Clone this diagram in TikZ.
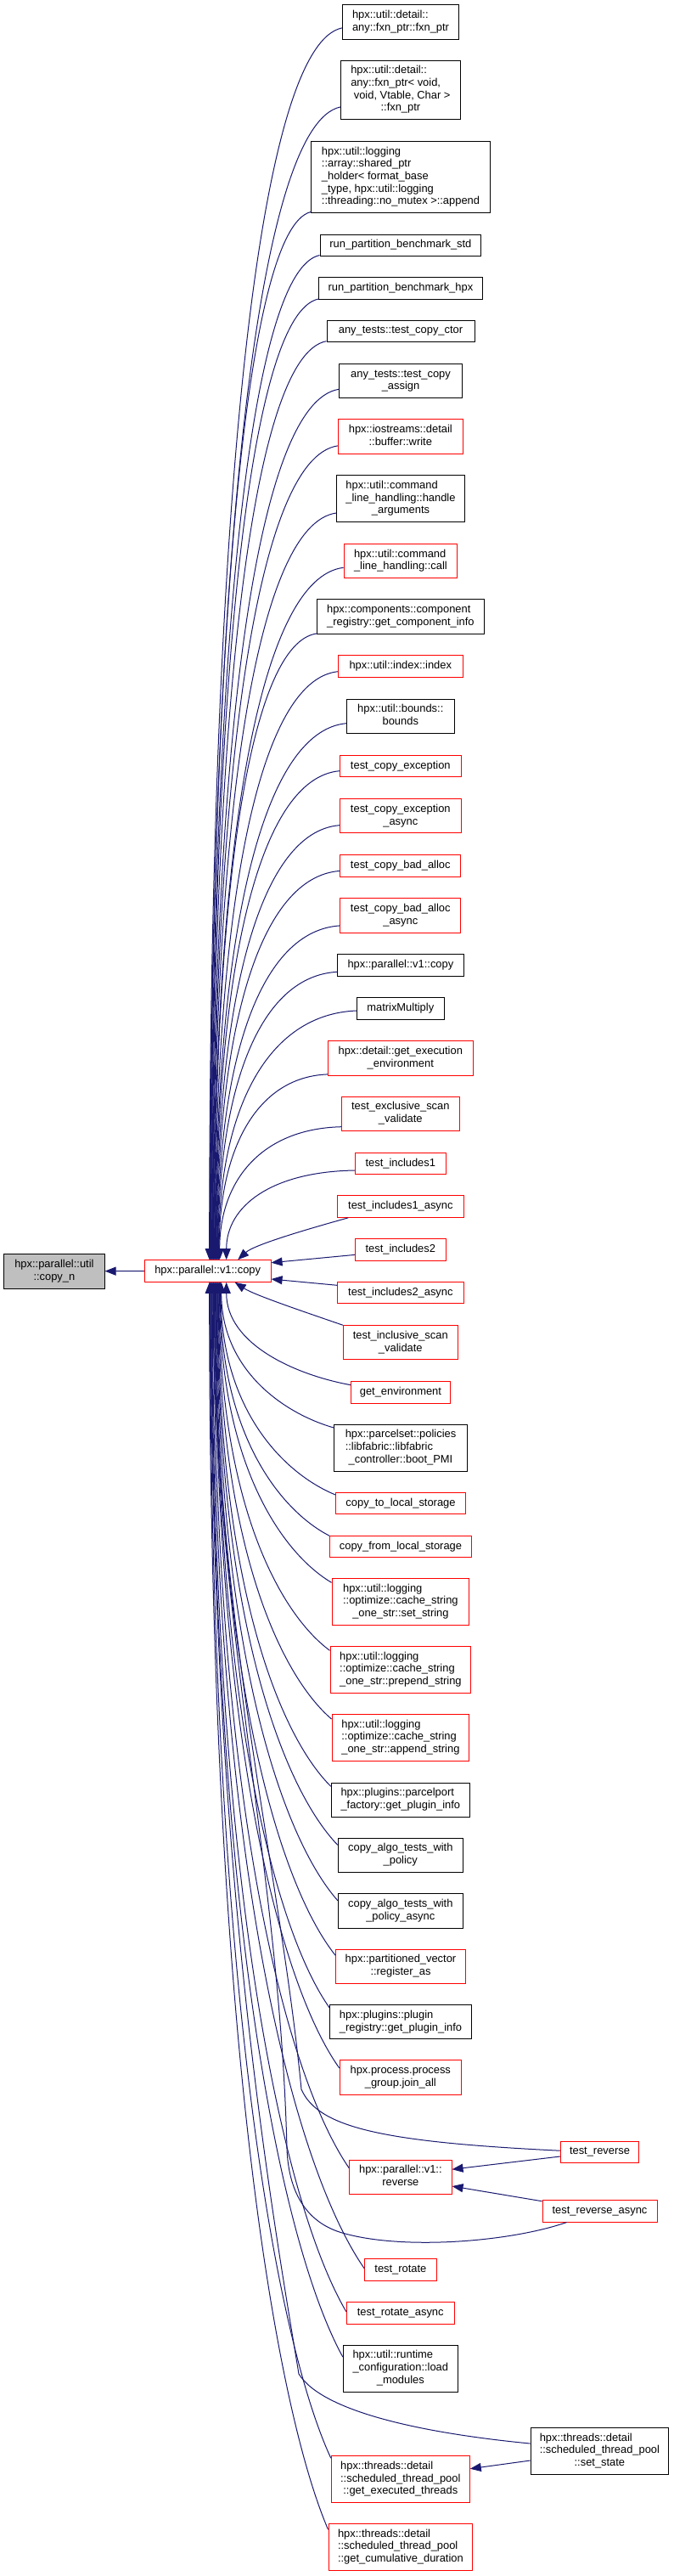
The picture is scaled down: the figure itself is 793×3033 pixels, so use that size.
\documentclass[tikz,border=0pt]{standalone}
\usepackage{fontspec}
\setmainfont{Liberation Sans}
\usetikzlibrary{calc,arrows.meta}
\definecolor{edgec}{HTML}{191970}
\definecolor{redc}{HTML}{FF0000}
\definecolor{grayf}{HTML}{BFBFBF}
\newcommand\nodefont{\fontsize{12.9}{14.7}\selectfont}
\newcommand\ml[2]{\begin{tabular}{@{}l@{}}#1\\\multicolumn{1}{@{}c@{}}{#2}\end{tabular}}
\tikzset{
 nb/.style={draw, line width=1pt, inner sep=0pt, font=\nodefont, align=center, fill=white},
 blk/.style={nb, draw=black},
 rd/.style={nb, draw=redc},
 gr/.style={nb, draw=black, fill=grayf},
 edge/.style={draw=edgec, line width=1pt, -{Triangle[length=13pt,width=10pt]}},
}
\newcommand\mknode[7]{\node[#6, minimum width=#4pt, minimum height=#5pt] (#1) at (#2,#3) {#7};}
\newcommand\upe[3]{\draw[edge] let \p1=($(#1.west)+(0,#2)$), \p2=($(copy.north)+(#3,0)$), \n1={\x1-\x2}, \n2={\y1-\y2} in (\p1) .. controls (\x1-0.65*\n1,\y1-0.015*\n2) and (\x2,\y2+0.6*\n2) .. (\p2);}
\newcommand\loe[3]{\draw[edge] let \p1=($(#1.west)+(0,#2)$), \p2=($(copy.south)+(#3,0)$), \n1={\x1-\x2}, \n2={\y2-\y1} in (\p1) .. controls (\x1-0.45*\n1,\y1+0.1*\n2) and (\x2,\y2-0.6*\n2) .. (\p2);}
\begin{document}
\begin{tikzpicture}[x=1pt,y=-1pt]
\fill[white] (0,0) rectangle (793,3033);
\useasboundingbox (0,0) rectangle (793,3033);
% central nodes
\mknode{copyn}{63.9}{1496.7}{118.3}{40.7}{gr}{\ml{hpx::parallel::util}{::copy\_n}}
\mknode{copy}{244.7}{1496.5}{148.7}{25.6}{rd}{hpx::parallel::v1::copy}
% callers
\mknode{a1}{472}{25.9}{137.4}{40.3}{blk}{\ml{hpx::util::detail::}{any::fxn\_ptr::fxn\_ptr}}
\mknode{a2}{471.9}{105.9}{140.3}{69.7}{blk}{\ml{hpx::util::detail::\\any::fxn\_ptr< void,\\\ void, Vtable, Char >}{::fxn\_ptr}}
\mknode{a3}{472}{208.5}{210.6}{83.6}{blk}{\ml{hpx::util::logging\\::array::shared\_ptr\\\_holder< format\_base\\\_type, hpx::util::logging}{::threading::no\_mutex >::append}}
\mknode{a4}{471.9}{288.5}{189.7}{25}{blk}{run\_partition\_benchmark\_std}
\mknode{a5}{471.9}{339.4}{192.3}{25.3}{blk}{run\_partition\_benchmark\_hpx}
\mknode{a6}{472}{389.9}{174}{25.7}{blk}{any\_tests::test\_copy\_ctor}
\mknode{a7}{472}{448.7}{144.6}{40}{blk}{\ml{any\_tests::test\_copy}{\_assign}}
\mknode{a8}{471.8}{513.9}{147}{40.3}{rd}{\ml{hpx::iostreams::detail}{::buffer::write}}
\mknode{a9}{472}{587.2}{150.6}{55}{blk}{\ml{hpx::util::command\\\_line\_handling::handle}{\_arguments}}
\mknode{a10}{471.9}{660.5}{133.7}{40.4}{rd}{\ml{hpx::util::command}{\_line\_handling::call}}
\mknode{a11}{471.9}{725.9}{196.3}{40.3}{blk}{\ml{hpx::components::component}{\_registry::get\_component\_info}}
\mknode{a12}{471.8}{784.5}{147}{25.6}{rd}{hpx::util::index::index}
\mknode{a13}{471.8}{843.2}{127}{40}{blk}{\ml{hpx::util::bounds::}{bounds}}
\mknode{a14}{471.8}{901.9}{143}{25.7}{rd}{test\_copy\_exception}
\mknode{a15}{471.8}{960.7}{143}{40}{rd}{\ml{test\_copy\_exception}{\_async}}
\mknode{a16}{471.8}{1019.4}{141.7}{25.3}{rd}{test\_copy\_bad\_alloc}
\mknode{a17}{471.8}{1077.9}{141.7}{40.3}{rd}{\ml{test\_copy\_bad\_alloc}{\_async}}
\mknode{a18}{471.9}{1136.5}{148.3}{25.6}{blk}{hpx::parallel::v1::copy}
\mknode{a19}{471.8}{1187.2}{103}{25.7}{blk}{matrixMultiply}
\mknode{a20}{471.8}{1245.9}{171}{40.3}{rd}{\ml{hpx::detail::get\_execution}{\_environment}}
\mknode{a21}{471.8}{1311.2}{139}{40.3}{rd}{\ml{test\_exclusive\_scan}{\_validate}}
\mknode{a22}{471.8}{1369.7}{107}{25.3}{rd}{test\_includes1}
\mknode{a23}{471.9}{1420.5}{148.3}{25.6}{rd}{test\_includes1\_async}
\mknode{a24}{471.8}{1471.4}{107}{25.3}{rd}{test\_includes2}
\mknode{a25}{471.9}{1522}{148.3}{25.4}{rd}{test\_includes2\_async}
\mknode{a26}{471.8}{1580.7}{135}{40}{rd}{\ml{test\_inclusive\_scan}{\_validate}}
\mknode{a27}{471.9}{1639.4}{116.3}{25.3}{rd}{get\_environment}
\mknode{a28}{472}{1704.5}{156.6}{55}{blk}{\ml{hpx::parcelset::policies\\::libfabric::libfabric}{\_controller::boot\_PMI}}
\mknode{a29}{472}{1769.9}{152.6}{25.7}{rd}{copy\_to\_local\_storage}
\mknode{a30}{472}{1820.7}{166.6}{25.3}{rd}{copy\_from\_local\_storage}
\mknode{a31}{471.9}{1886}{161.7}{54.6}{rd}{\ml{hpx::util::logging\\::optimize::cache\_string}{\_one\_str::set\_string}}
\mknode{a32}{471.9}{1966}{165.7}{54.6}{rd}{\ml{hpx::util::logging\\::optimize::cache\_string}{\_one\_str::prepend\_string}}
\mknode{a33}{471.9}{2046}{161.7}{54.6}{rd}{\ml{hpx::util::logging\\::optimize::cache\_string}{\_one\_str::append\_string}}
\mknode{a34}{471.8}{2119}{163}{40}{blk}{\ml{hpx::plugins::parcelport}{\_factory::get\_plugin\_info}}
\mknode{a35}{471.8}{2184.3}{147}{40}{blk}{\ml{copy\_algo\_tests\_with}{\_policy}}
\mknode{a36}{471.8}{2249.9}{147}{40.3}{blk}{\ml{copy\_algo\_tests\_with}{\_policy\_async}}
\mknode{a37}{472}{2315.2}{152.6}{40.3}{rd}{\ml{hpx::partitioned\_vector}{::register\_as}}
\mknode{a38}{472}{2380.7}{166.6}{40}{blk}{\ml{hpx::plugins::plugin}{\_registry::get\_plugin\_info}}
\mknode{a39}{471.8}{2445.9}{143}{40.3}{rd}{\ml{hpx.process.process}{\_group.join\_all}}
\mknode{b1}{706.5}{2533.7}{92.4}{25.3}{rd}{test\_reverse}
\mknode{a40}{471.9}{2563.2}{120.3}{39.7}{rd}{\ml{hpx::parallel::v1::}{reverse}}
\mknode{b2}{706.5}{2603.4}{135}{25.3}{rd}{test\_reverse\_async}
\mknode{a41}{471.9}{2672.2}{84.3}{25.7}{rd}{test\_rotate}
\mknode{a42}{471.7}{2723.4}{126.7}{25.3}{rd}{test\_rotate\_async}
\mknode{a43}{471.8}{2788.5}{135}{55}{blk}{\ml{hpx::util::runtime\\\_configuration::load}{\_modules}}
\mknode{b3}{706.4}{2886}{162.7}{54.6}{blk}{\ml{hpx::threads::detail\\::scheduled\_thread\_pool}{::set\_state}}
\mknode{a44}{471.8}{2919.2}{163}{55}{rd}{\ml{hpx::threads::detail\\::scheduled\_thread\_pool}{::get\_executed\_threads}}
\mknode{a45}{471.9}{2998.8}{169.7}{55}{rd}{\ml{hpx::threads::detail\\::scheduled\_thread\_pool}{::get\_cumulative\_duration}}
% edges
\draw[edge] (copy) -- (copyn);
\upe{a1}{7}{2}
\upe{a2}{20}{2.6}
\upe{a3}{41}{3.2}
\upe{a4}{12}{3.8}
\upe{a5}{12.6}{4.4}
\upe{a6}{11.8}{5}
\upe{a7}{9.6}{5.6}
\upe{a8}{11}{6.2}
\upe{a9}{16.8}{6.8}
\upe{a10}{7.8}{7.4}
\upe{a11}{20}{8}
\upe{a12}{6.2}{8.6}
\upe{a13}{8.5}{9.2}
\upe{a14}{5.8}{9.8}
\upe{a15}{11}{10.4}
\upe{a16}{6}{11}
\upe{a17}{12}{11.6}
\upe{a18}{7.8}{12.2}
\upe{a19}{2.8}{12.8}
\upe{a20}{19}{13.4}
\upe{a21}{15.5}{14}
\upe{a22}{8.3}{22}
\draw[edge] ($(a23.south west)+(13,0)$) .. controls (370,1445) and (300,1465) .. ($(copy.north)+(35.5,0)$);
\draw[edge] ($(a24.west)+(0,6)$) -- ($(copy.east)+(0,-9.8)$);
\draw[edge] ($(a25.west)+(0,-8.7)$) -- ($(copy.east)+(0,9.5)$);
\draw[edge] (a26.north west) .. controls (360,1545) and (300,1525) .. ($(copy.south)+(32,0)$);
\loe{a27}{-8.7}{22}
\loe{a28}{-23.5}{16}
\loe{a29}{-9.9}{15.3}
\loe{a30}{-12.4}{14.6}
\loe{a31}{-22.7}{13.9}
\loe{a32}{-22.7}{13.2}
\loe{a33}{-22}{12.5}
\loe{a34}{-15.7}{11.8}
\loe{a35}{-12}{11.1}
\loe{a36}{-12.2}{10.4}
\loe{a37}{-12.9}{9.7}
\loe{a38}{-16.7}{9}
\loe{a39}{-10.9}{8.3}
\draw[edge] ($(b1.west)+(0,-1.5)$) .. controls (450,2522) and (375,2505) .. (355,2460) .. controls (330,2200) and (252,1900) .. ($(copy.south)+(7.6,0)$);
\loe{a40}{-10.5}{6.9}
\draw[edge] ($(b2.south west)+(29,0)$) .. controls (600,2640) and (470,2650) .. (400,2628) .. controls (360,2615) and (340,2580) .. (338,2530) .. controls (330,2200) and (251,1900) .. ($(copy.south)+(6.2,0)$);
\loe{a41}{-1.2}{5.5}
\loe{a42}{-1.7}{4.8}
\loe{a43}{-13.5}{4.1}
\draw[edge] ($(b3.west)+(0,-9)$) .. controls (500,2865) and (380,2840) .. (352,2795) .. controls (320,2600) and (248,2200) .. ($(copy.south)+(3.4,0)$);
\loe{a44}{-25}{2.7}
\loe{a45}{-20.5}{2}
% second-level edges
\draw[edge] ($(b1.west)+(0,5.3)$) -- ($(a40.east)+(0,-9)$);
\draw[edge] ($(b2.west)+(0,-11.7)$) -- ($(a40.east)+(0,10.8)$);
\draw[edge] ($(b3.west)+(0,11)$) -- ($(a44.east)+(0,-12.5)$);
\end{tikzpicture}
\end{document}
